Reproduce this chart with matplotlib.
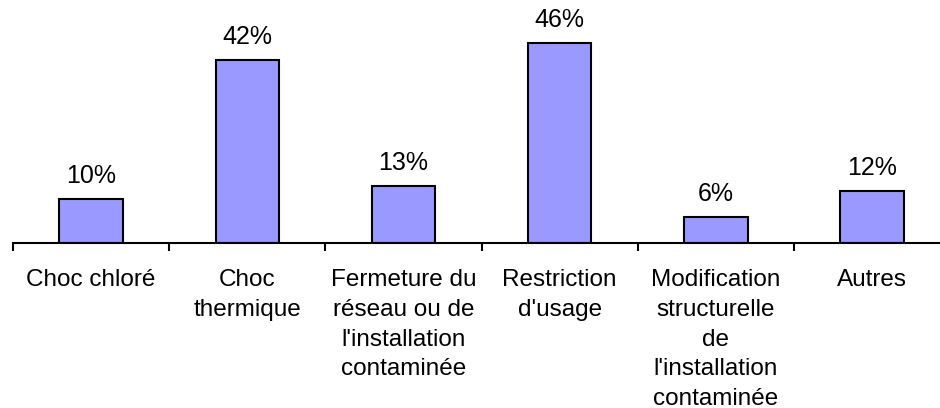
import matplotlib
matplotlib.use("Agg")
import matplotlib.pyplot as plt
import numpy as np

categories = ["Choc chloré", "Choc\nthermique", "Fermeture du\nréseau ou de\nl'installation\ncontaminée",
              "Restriction\nd'usage", "Modification\nstructurelle\nde\nl'installation\ncontaminée", "Autres"]
values = [10, 42, 13, 46, 6, 12]
value_labels = ["10%", "42%", "13%", "46%", "6%", "12%"]

plt.rcParams['font.family'] = ['Liberation Sans', 'DejaVu Sans']

W, H = 940, 408
fig = plt.figure(figsize=(W / 100, H / 100), dpi=100)
px_per_unit = 156.2
left_px, base_px = 13, 243
px_per_pct = 4.354
ymax = 50
ax = fig.add_axes([left_px / W, (H - base_px) / H, 6 * px_per_unit / W, ymax * px_per_pct / H])

x = np.arange(len(categories))
ax.bar(x, values, width=0.405, color="#9999FF", edgecolor="black", linewidth=1.5, zorder=3)
for xi, v, lab in zip(x, values, value_labels):
    ax.annotate(lab, (xi, v), xytext=(0, 8), textcoords="offset points",
                ha="center", va="bottom", fontsize=18)

ax.set_xlim(-0.5, 5.5)
ax.set_ylim(0, ymax)
for s in ["top", "right", "left"]:
    ax.spines[s].set_visible(False)
ax.spines["bottom"].set_linewidth(1.5)
ax.spines["bottom"].set_zorder(4)
ax.set_yticks([])
ax.set_xticks(np.arange(-0.5, 6.0, 1.0))
ax.set_xticklabels([])
ax.tick_params(axis="x", which="major", length=6, width=1.5, direction="out")
ax.set_xticks(x, categories, minor=True)
ax.tick_params(axis="x", which="minor", length=0, pad=19, labelsize=17.5)
for t in ax.get_xticklabels(minor=True):
    t.set_linespacing(1.45)

fig.savefig("out.png", dpi=100)
